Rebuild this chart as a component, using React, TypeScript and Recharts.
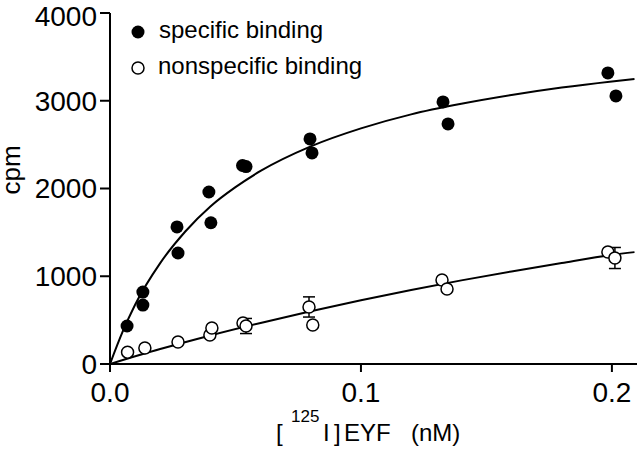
import React from "react";
import {
  ComposedChart,
  Line,
  Scatter,
  XAxis,
  YAxis,
  ErrorBar,
} from "recharts";

// ---- data ----
const seriesNames = ["specific binding", "nonspecific binding"];

const specificX = [0.0068, 0.0131, 0.0131, 0.0267, 0.0271, 0.0394, 0.0402, 0.0528, 0.0542, 0.0797, 0.0805, 0.1327, 0.1347, 0.1984, 0.2016];
const specificY = [433, 820, 672, 1562, 1265, 1960, 1610, 2262, 2250, 2565, 2405, 2987, 2736, 3317, 3055];

const nonspecificX = [0.007, 0.0139, 0.0271, 0.0398, 0.0406, 0.053, 0.0542, 0.0793, 0.0808, 0.1323, 0.1343, 0.1984, 0.2012];
const nonspecificY = [135, 182, 251, 330, 410, 467, 433, 650, 445, 958, 855, 1277, 1208];
const nonspecificErr = [0, 0, 0, 0, 0, 0, 86, 115, 0, 0, 0, 0, 120];

// fitted curves as drawn in the figure
const specificFitX = [0, 0.005, 0.01, 0.02, 0.03, 0.04, 0.05, 0.06, 0.08, 0.1, 0.12, 0.14, 0.16, 0.18, 0.2, 0.209];
const specificFitY = [0, 365, 675, 1150, 1510, 1795, 2015, 2200, 2480, 2685, 2845, 2965, 3065, 3150, 3220, 3248];

const nonspecificFitX = [0, 0.02, 0.04, 0.06, 0.08, 0.1, 0.12, 0.14, 0.16, 0.18, 0.2, 0.209];
const nonspecificFitY = [0, 170, 325, 468, 602, 727, 843, 953, 1055, 1152, 1243, 1275];

const xTicks = [0, 0.1, 0.2];
const yTicks = [0, 1000, 2000, 3000, 4000];

const specificData = specificX.map((x, i) => ({ x, y: specificY[i] }));
const nonspecificData = nonspecificX.map((x, i) => ({ x, y: nonspecificY[i], err: nonspecificErr[i] }));
const specificFit = specificFitX.map((x, i) => ({ x, y: specificFitY[i] }));
const nonspecificFit = nonspecificFitX.map((x, i) => ({ x, y: nonspecificFitY[i] }));

const FONT = "'Liberation Sans', Arial, Helvetica, sans-serif";

const LegendBox = () => (
  <svg width={280} height={80} style={{ display: "block" }}>
    <circle cx={18} cy={22} r={6.5} fill="#000" />
    <text x={39} y={28} fontFamily={FONT} fontSize={24} fill="#000">
      {seriesNames[0]}
    </text>
    <circle cx={18} cy={58} r={6} fill="#fff" stroke="#000" strokeWidth={1.5} />
    <text x={38} y={64} fontFamily={FONT} fontSize={24} fill="#000">
      {seriesNames[1]}
    </text>
  </svg>
);

const XLabel = () => (
  <text fontFamily={FONT} fontSize={24} fill="#000">
    <tspan x={276} y={441}>[</tspan>
    <tspan x={291} y={422} fontSize={17}>125</tspan>
    <tspan x={323} y={441}>I</tspan>
    <tspan x={334} y={441}>]</tspan>
    <tspan x={344} y={441}>EYF</tspan>
    <tspan x={411} y={441}>(nM)</tspan>
  </text>
);

const YLabel = () => (
  <text
    transform="translate(20,170) rotate(-90)"
    textAnchor="middle"
    fontFamily={FONT}
    fontSize={26}
    fill="#000"
  >
    cpm
  </text>
);

export default function App() {
  const axisStyle = { stroke: "#000", strokeWidth: 2 };
  return (
    <div style={{ position: "absolute", left: 0, top: 0, width: 640, height: 458, background: "#fff" }}>
      <ComposedChart
        width={640}
        height={458}
        margin={{ top: 13, right: 3, bottom: 0, left: 0 }}
      >
        <XAxis
          type="number"
          dataKey="x"
          domain={[0, 0.21]}
          ticks={xTicks}
          tickFormatter={(v: number) => v.toFixed(1)}
          height={94}
          axisLine={axisStyle}
          tickLine={axisStyle}
          tickSize={8}
          tickMargin={10}
          tick={{ fill: "#000", fontSize: 28, fontFamily: FONT }}
          allowDataOverflow
          label={{ content: () => <XLabel /> }}
        />
        <YAxis
          type="number"
          dataKey="y"
          domain={[0, 4000]}
          ticks={yTicks}
          width={110}
          axisLine={axisStyle}
          tickLine={axisStyle}
          tickSize={10}
          tickMargin={3}
          tick={{ fill: "#000", fontSize: 28, fontFamily: FONT }}
          allowDataOverflow
          label={{ content: () => <YLabel /> }}
        />
        <Line
          data={specificFit}
          dataKey="y"
          type="monotone"
          stroke="#000"
          strokeWidth={2}
          dot={false}
          isAnimationActive={false}
          legendType="none"
        />
        <Line
          data={nonspecificFit}
          dataKey="y"
          type="monotone"
          stroke="#000"
          strokeWidth={2}
          dot={false}
          isAnimationActive={false}
          legendType="none"
        />
        <Scatter
          name={seriesNames[0]}
          data={specificData}
          dataKey="y"
          isAnimationActive={false}
          shape={(p: any) => <circle cx={p.cx} cy={p.cy} r={6.5} fill="#000" />}
        />
        <Scatter
          name={seriesNames[1]}
          data={nonspecificData}
          dataKey="y"
          isAnimationActive={false}
          shape={(p: any) => (
            <circle cx={p.cx} cy={p.cy} r={6} fill="#fff" stroke="#000" strokeWidth={1.5} />
          )}
        >
          <ErrorBar dataKey="err" direction="y" width={6} stroke="#000" strokeWidth={1.5} />
        </Scatter>
      </ComposedChart>
      <div style={{ position: "absolute", left: 120, top: 10, width: 280, height: 80 }}>
        <LegendBox />
      </div>
    </div>
  );
}
